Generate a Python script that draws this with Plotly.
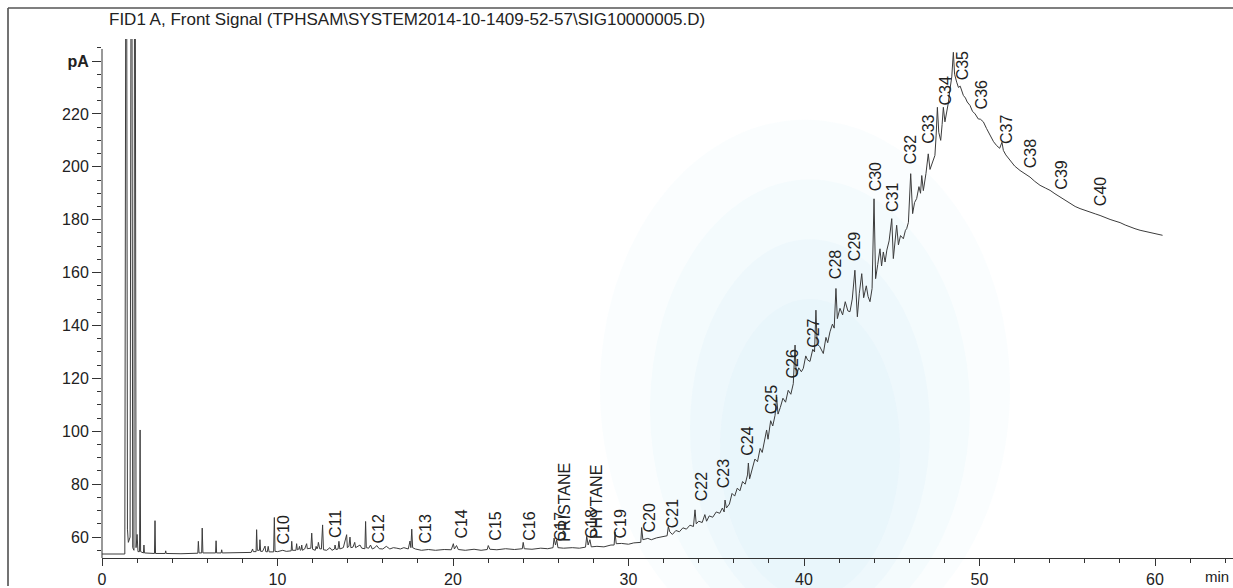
import plotly.graph_objects as go

# FID1 A front-signal trace: retention time (min) and detector signal (pA)
rt_min = [
    0.0, 1.30, 1.35, 1.41, 1.45, 1.50, 1.60, 1.65, 1.71, 1.75, 1.82, 1.85, 1.90, 1.94, 2.00, 2.05,
    2.14, 2.17, 2.20, 2.36, 2.39, 2.42, 2.99, 3.02, 3.05, 3.60, 3.63, 3.66, 4.50, 5.00, 5.46, 5.49,
    5.53, 5.68, 5.71, 5.75, 6.47, 6.50, 6.53, 6.79, 6.82, 6.85, 7.50, 8.00, 8.50, 8.58, 8.62, 8.78,
    8.81, 8.85, 8.97, 9.00, 9.04, 9.15, 9.29, 9.33, 9.42, 9.47, 9.52, 9.78, 9.82, 9.86, 10.00, 10.30,
    10.50, 10.78, 10.81, 10.85, 11.05, 11.09, 11.13, 11.22, 11.25, 11.30, 11.35, 11.38, 11.42, 11.55,
    11.60, 11.66, 11.70, 11.90, 11.95, 12.00, 12.15, 12.20, 12.25, 12.30, 12.33, 12.40, 12.50, 12.57,
    12.62, 12.80, 12.99, 13.10, 13.25, 13.28, 13.33, 13.45, 13.50, 13.55, 13.75, 13.94, 13.98, 14.07,
    14.13, 14.18, 14.30, 14.40, 14.45, 14.60, 14.70, 14.80, 14.98, 15.02, 15.06, 15.20, 15.30, 15.40,
    15.55, 15.65, 15.80, 16.00, 16.20, 16.40, 16.60, 16.80, 17.00, 17.20, 17.45, 17.55, 17.60, 17.65,
    17.70, 17.85, 18.20, 18.60, 19.00, 19.50, 19.90, 20.02, 20.08, 20.20, 20.30, 20.70, 21.20, 21.60,
    21.95, 22.01, 22.10, 22.50, 23.00, 23.50, 23.95, 24.00, 24.06, 24.50, 25.00, 25.40, 25.70, 25.76,
    25.84, 25.91, 25.98, 26.30, 26.80, 27.20, 27.55, 27.62, 27.70, 27.80, 27.88, 28.20, 28.60, 29.00,
    29.18, 29.23, 29.30, 29.60, 30.00, 30.30, 30.70, 30.75, 30.82, 31.10, 31.30, 31.60, 31.90, 32.20,
    32.27, 32.35, 32.50, 32.70, 32.90, 33.10, 33.30, 33.50, 33.70, 33.79, 33.86, 34.00, 34.20, 34.35,
    34.45, 34.60, 34.80, 35.00, 35.20, 35.35, 35.45, 35.50, 35.58, 35.75, 35.90, 36.05, 36.20, 36.35,
    36.50, 36.65, 36.78, 36.83, 36.90, 37.05, 37.20, 37.35, 37.50, 37.62, 37.78, 37.87, 37.95, 38.10,
    38.22, 38.35, 38.44, 38.52, 38.65, 38.80, 38.95, 39.10, 39.25, 39.39, 39.49, 39.56, 39.70, 39.85,
    39.96, 40.10, 40.20, 40.34, 40.50, 40.60, 40.68, 40.75, 40.90, 41.10, 41.25, 41.35, 41.48, 41.62,
    41.72, 41.82, 41.90, 42.05, 42.20, 42.35, 42.50, 42.62, 42.75, 42.90, 43.04, 43.15, 43.29, 43.40,
    43.55, 43.65, 43.76, 43.88, 43.99, 44.08, 44.20, 44.33, 44.42, 44.52, 44.62, 44.72, 44.85, 45.00,
    45.09, 45.20, 45.28, 45.38, 45.50, 45.66, 45.78, 45.85, 45.95, 46.08, 46.19, 46.30, 46.42, 46.55,
    46.64, 46.71, 46.80, 46.95, 47.08, 47.18, 47.27, 47.38, 47.46, 47.53, 47.60, 47.68, 47.79, 47.87,
    47.94, 48.03, 48.13, 48.22, 48.32, 48.42, 48.51, 48.58, 48.70, 48.80, 48.90, 49.00, 49.08, 49.20,
    49.30, 49.46, 49.60, 49.75, 49.93, 50.05, 50.22, 50.40, 50.60, 50.80, 50.98, 51.15, 51.28, 51.36,
    51.50, 51.74, 52.00, 52.31, 52.60, 52.88, 53.15, 53.45, 53.75, 54.02, 54.30, 54.59, 54.90, 55.16,
    55.45, 55.73, 56.00, 56.30, 56.60, 56.87, 57.15, 57.44, 57.72, 58.01, 58.30, 58.58, 58.86, 59.15,
    59.45, 59.72, 60.10, 60.43,
]
signal_pa = [
    53.6, 53.6, 260, 260, 63, 58, 60, 260, 260, 56, 55, 260, 260, 56, 61, 54.5,
    54.5, 100.5, 54.5, 54.0, 57.0, 54.0, 53.8, 66.2, 53.8, 53.8, 54.8, 53.8, 53.7, 53.9, 53.9, 58.4,
    54.0, 54.0, 63.4, 54.0, 54.0, 58.6, 54.0, 54.0, 55.2, 54.0, 54.0, 54.2, 54.2, 55.5, 54.5, 54.5,
    62.8, 55.0, 55.0, 59.0, 54.6, 54.6, 56.6, 54.5, 54.4, 56.5, 54.4, 54.4, 67.4, 54.6, 54.5, 55.0,
    54.6, 54.8, 58.4, 55.0, 55.0, 57.5, 55.2, 55.5, 56.5, 55.0, 55.3, 57.0, 55.0, 55.5,
    56.5, 57.5, 55.6, 55.8, 61.5, 55.4, 55.0, 56.5, 55.5, 56.5, 58.0, 55.6, 55.5, 64.6,
    55.2, 55.0, 56.0, 55.0, 55.5, 57.0, 55.3, 55.5, 58.4, 55.5, 56.0, 60.9, 56.0, 56.5,
    60.0, 56.0, 56.2, 58.0, 56.0, 56.5, 57.0, 55.8, 55.6, 65.9, 56.0, 55.8, 57.0, 55.5,
    56.0, 56.8, 55.6, 55.5, 56.5, 55.5, 56.0, 55.8, 55.5, 56.0, 55.5, 58.5, 56.0, 63.0,
    56.0, 55.5, 55.0, 55.3, 55.0, 55.3, 55.2, 57.5, 55.5, 56.8, 55.3, 55.0, 55.4, 55.0,
    55.3, 56.8, 55.4, 55.2, 55.6, 55.3, 55.6, 58.0, 55.6, 55.4, 55.8, 55.6, 56.0, 59.6,
    57.0, 59.0, 56.0, 55.8, 56.0, 55.8, 56.2, 60.3, 57.0, 59.0, 56.3, 56.5, 56.3, 57.0,
    57.0, 61.9, 57.5, 57.6, 57.3, 57.8, 58.0, 63.6, 59.0, 59.5, 59.0, 59.7, 60.0, 60.5,
    64.0, 62.0, 61.0, 62.5, 62.0, 63.5, 63.0, 64.5, 64.0, 70.3, 65.0, 66.0, 65.5, 68.5,
    66.0, 68.0, 67.5, 69.5, 69.0, 71.0, 69.5, 74.0, 71.0, 72.5, 76.5, 75.5, 78.5, 77.5,
    81.0, 80.0, 83.5, 88.0, 82.0, 86.0, 89.5, 88.5, 93.5, 92.0, 97.5, 100.5, 97.0, 104.0,
    102.0, 106.0, 113.0, 106.5, 109.0, 112.5, 111.0, 115.5, 114.0, 118.0, 132.6, 121.0, 124.0, 122.5,
    123.8, 128.5, 127.0, 126.4, 131.0, 130.0, 145.8, 133.0, 132.0, 129.4, 135.5, 133.5, 137.6, 140.5,
    139.0, 154.0, 142.6, 146.5, 144.0, 149.0, 145.5, 145.2, 150.0, 160.9, 143.3, 152.0, 159.6, 150.5,
    155.0, 151.0, 149.0, 154.0, 187.9, 157.7, 163.0, 169.0, 162.5, 167.8, 164.0, 168.5, 172.0, 180.4,
    165.3, 172.0, 177.9, 170.5, 174.0, 172.8, 176.0, 176.6, 179.0, 197.4, 182.3, 186.5, 188.0, 192.5,
    190.0, 196.7, 191.0, 197.5, 204.9, 199.0, 200.5, 203.0, 204.3, 212.0, 222.5, 213.0, 210.0, 216.0,
    222.5, 217.0, 220.0, 224.0, 229.4, 234.0, 243.3, 235.0, 232.0, 230.0, 230.5, 228.0, 227.0, 226.0,
    224.5, 223.2, 221.0, 220.0, 218.1, 218.0, 217.0, 214.5, 211.8, 209.5, 208.0, 207.0, 209.3, 206.2,
    204.5, 202.4, 200.3, 198.6, 197.3, 196.1, 194.5, 193.0, 192.0, 191.1, 189.8, 188.6, 187.2, 186.0,
    185.0, 184.2, 183.5, 182.9, 182.2, 181.6, 180.8, 180.1, 179.5, 178.9, 178.0, 177.2, 176.6, 176.0,
    175.5, 175.1, 174.6, 174.1,
]

# Identified compounds: label retention time (min) and label base level (pA)
peak_names = [
    "C10", "C11", "C12", "C13", "C14", "C15", "C16", "C17", "PRISTANE", "C18", "PHYTANE",
    "C19", "C20", "C21", "C22", "C23", "C24", "C25", "C26", "C27", "C28", "C29", "C30",
    "C31", "C32", "C33", "C34", "C35", "C36", "C37", "C38", "C39", "C40",
]
peak_rt = [
    10.37, 13.33, 15.78, 18.46, 20.46, 22.45, 24.39, 26.13, 26.38, 27.92, 28.15,
    29.57, 31.17, 32.51, 34.16, 35.41, 36.81, 38.15, 39.29, 40.57, 41.77, 42.85, 44.05,
    45.01, 46.04, 47.09, 48.09, 49.00, 50.09, 51.54, 52.88, 54.67, 56.87,
]
peak_label_pa = [
    56.6, 58.9, 57.0, 57.0, 58.5, 57.7, 57.7, 57.7, 57.7, 58.5, 58.5,
    58.9, 60.8, 62.6, 72.8, 77.7, 89.8, 105.7, 119.2, 130.6, 156.6, 163.4, 189.8,
    182.3, 200.0, 207.9, 222.6, 232.1, 220.8, 207.9, 198.5, 190.6, 184.2,
]

y_ticks = [60, 80, 100, 120, 140, 160, 180, 200, 220, 240]
y_tick_text = ["60", "80", "100", "120", "140", "160", "180", "200", "220", "<b>pA</b>"]
x_ticks = [0, 10, 20, 30, 40, 50, 60]

FONT = "Liberation Sans, Arial, sans-serif"
INK = "#333333"

W, H = 1233, 588
L, R, T, B = 102, 0, 39, 28
PW, PH = W - L - R, H - T - B


def px_x(px):
    return (px - L) / PW


def px_y(py):
    return (H - B - py) / PH


fig = go.Figure()
fig.add_trace(go.Scatter(
    x=rt_min, y=signal_pa, mode="lines",
    line=dict(color="#3c3c3c", width=1),
    hoverinfo="skip", showlegend=False,
))

annotations = [
    dict(x=t, y=v, text=name, xref="x", yref="y", textangle=-90,
         xanchor="center", yanchor="bottom", showarrow=False,
         font=dict(family=FONT, size=16, color="#222222"))
    for name, t, v in zip(peak_names, peak_rt, peak_label_pa)
]
annotations.append(dict(
    x=px_x(107), y=px_y(19), xref="paper", yref="paper",
    xanchor="left", yanchor="middle", showarrow=False,
    text="FID1 A, Front Signal (TPHSAM\\SYSTEM2014-10-1409-52-57\\SIG10000005.D)",
    font=dict(family=FONT, size=17, color="#222222"),
))
annotations.append(dict(
    x=px_x(1231), y=px_y(579), xref="paper", yref="paper",
    xanchor="right", yanchor="middle", showarrow=False, text="min",
    font=dict(family=FONT, size=15, color="#222222"),
))

# faint scanner haze: stacked translucent ellipses fading outward
haze = [
    (600, 1010, 660, 120, 0.10),
    (650, 970, 640, 180, 0.12),
    (690, 930, 620, 240, 0.14),
    (720, 900, 600, 300, 0.14),
]
shapes = [
    dict(type="circle", xref="paper", yref="paper", layer="below",
         x0=px_x(a), x1=px_x(b), y0=px_y(c), y1=px_y(d),
         line=dict(width=0), fillcolor=f"rgba(205,236,248,{o})")
    for a, b, c, d, o in haze
]
shapes += [
    # page frame
    dict(type="line", xref="paper", yref="paper", x0=px_x(8), x1=px_x(8),
         y0=px_y(8), y1=px_y(588), line=dict(color="#444444", width=1.5)),
    dict(type="line", xref="paper", yref="paper", x0=px_x(8), x1=px_x(1233),
         y0=px_y(8), y1=px_y(8), line=dict(color="#555555", width=1.5)),
    # signal axis line
    dict(type="line", xref="paper", yref="paper", x0=0, x1=0,
         y0=0, y1=px_y(49), line=dict(color=INK, width=1)),
]

fig.update_layout(
    width=W, height=H,
    margin=dict(l=L, r=R, t=T, b=B, pad=0),
    paper_bgcolor="white", plot_bgcolor="rgba(0,0,0,0)",
    showlegend=False,
    annotations=annotations,
    shapes=shapes,
    xaxis=dict(
        range=[0, PW / 17.55], showgrid=False, zeroline=False,
        showline=True, linecolor=INK, linewidth=1.2,
        tickmode="array", tickvals=x_ticks,
        ticks="outside", ticklen=7, tickwidth=1, tickcolor=INK,
        tickfont=dict(family=FONT, size=16, color="#222222"),
        minor=dict(dtick=2, tick0=0, ticks="outside", ticklen=4, tickwidth=1, tickcolor=INK),
    ),
    yaxis=dict(
        range=[60 - (560 - 539) / 2.655, 60 + (539 - 39) / 2.655],
        showgrid=False, zeroline=False, showline=False,
        tickmode="array", tickvals=y_ticks, ticktext=y_tick_text,
        ticks="outside", ticklen=9, tickwidth=1, tickcolor=INK,
        tickfont=dict(family=FONT, size=16, color="#222222"),
        minor=dict(dtick=5, tick0=0, ticks="outside", ticklen=4, tickwidth=1, tickcolor=INK),
    ),
)

fig.write_html("out.html")
